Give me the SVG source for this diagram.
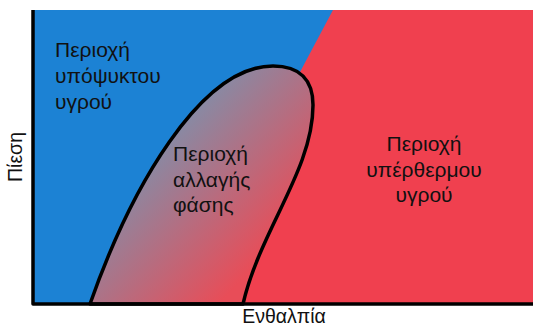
<svg xmlns="http://www.w3.org/2000/svg" width="533" height="327" viewBox="0 0 533 327">
  <defs>
    <linearGradient id="mix" gradientUnits="userSpaceOnUse" x1="130" y1="150" x2="255" y2="265">
      <stop offset="0" stop-color="#7b92ae"/>
      <stop offset="1" stop-color="#e84d58"/>
    </linearGradient>
  </defs>
  <style>
    .lbl { font-family: "Liberation Sans", Arial, sans-serif; font-size: 21px; fill: #111; }
    .ax { font-family: "Liberation Sans", Arial, sans-serif; font-size: 19.5px; fill: #111; }
    .line { fill: none; stroke: #000; stroke-width: 3.5; stroke-linejoin: round; }
  </style>
  <rect width="533" height="327" fill="#fff"/>
  <g id="subcooled">
    <rect x="33" y="10" width="500" height="294" fill="#1c82d4"/>
    <text class="lbl" x="55" y="57">Περιοχή</text>
    <text class="lbl" x="55" y="83">υπόψυκτου</text>
    <text class="lbl" x="55" y="109">υγρού</text>
  </g>
  <g id="superheated">
    <polygon points="333,10 533,10 533,304 240,304 300,72" fill="#f0404f"/>
    <text class="lbl" x="424" y="151" text-anchor="middle">Περιοχή</text>
    <text class="lbl" x="424" y="177" text-anchor="middle">υπέρθερμου</text>
    <text class="lbl" x="424" y="202" text-anchor="middle">υγρού</text>
  </g>
  <g id="phase-change">
    <path class="line" style="fill:url(#mix)" d="M90,304 C130,190 200,66 273,66 C300,66 313,80 313,105 C313,170 260,230 243,304 Z"/>
    <text class="lbl" x="173" y="161">Περιοχή</text>
    <text class="lbl" x="173" y="187">αλλαγής</text>
    <text class="lbl" x="173" y="212">φάσης</text>
  </g>
  <g id="axes">
    <polyline class="line" points="33,10 33,304 533,304" stroke-linejoin="miter"/>
    <text class="ax" x="284" y="323" text-anchor="middle">Ενθαλπία</text>
    <text class="ax" transform="translate(22,157) rotate(-90)" text-anchor="middle">Πίεση</text>
  </g>
</svg>
